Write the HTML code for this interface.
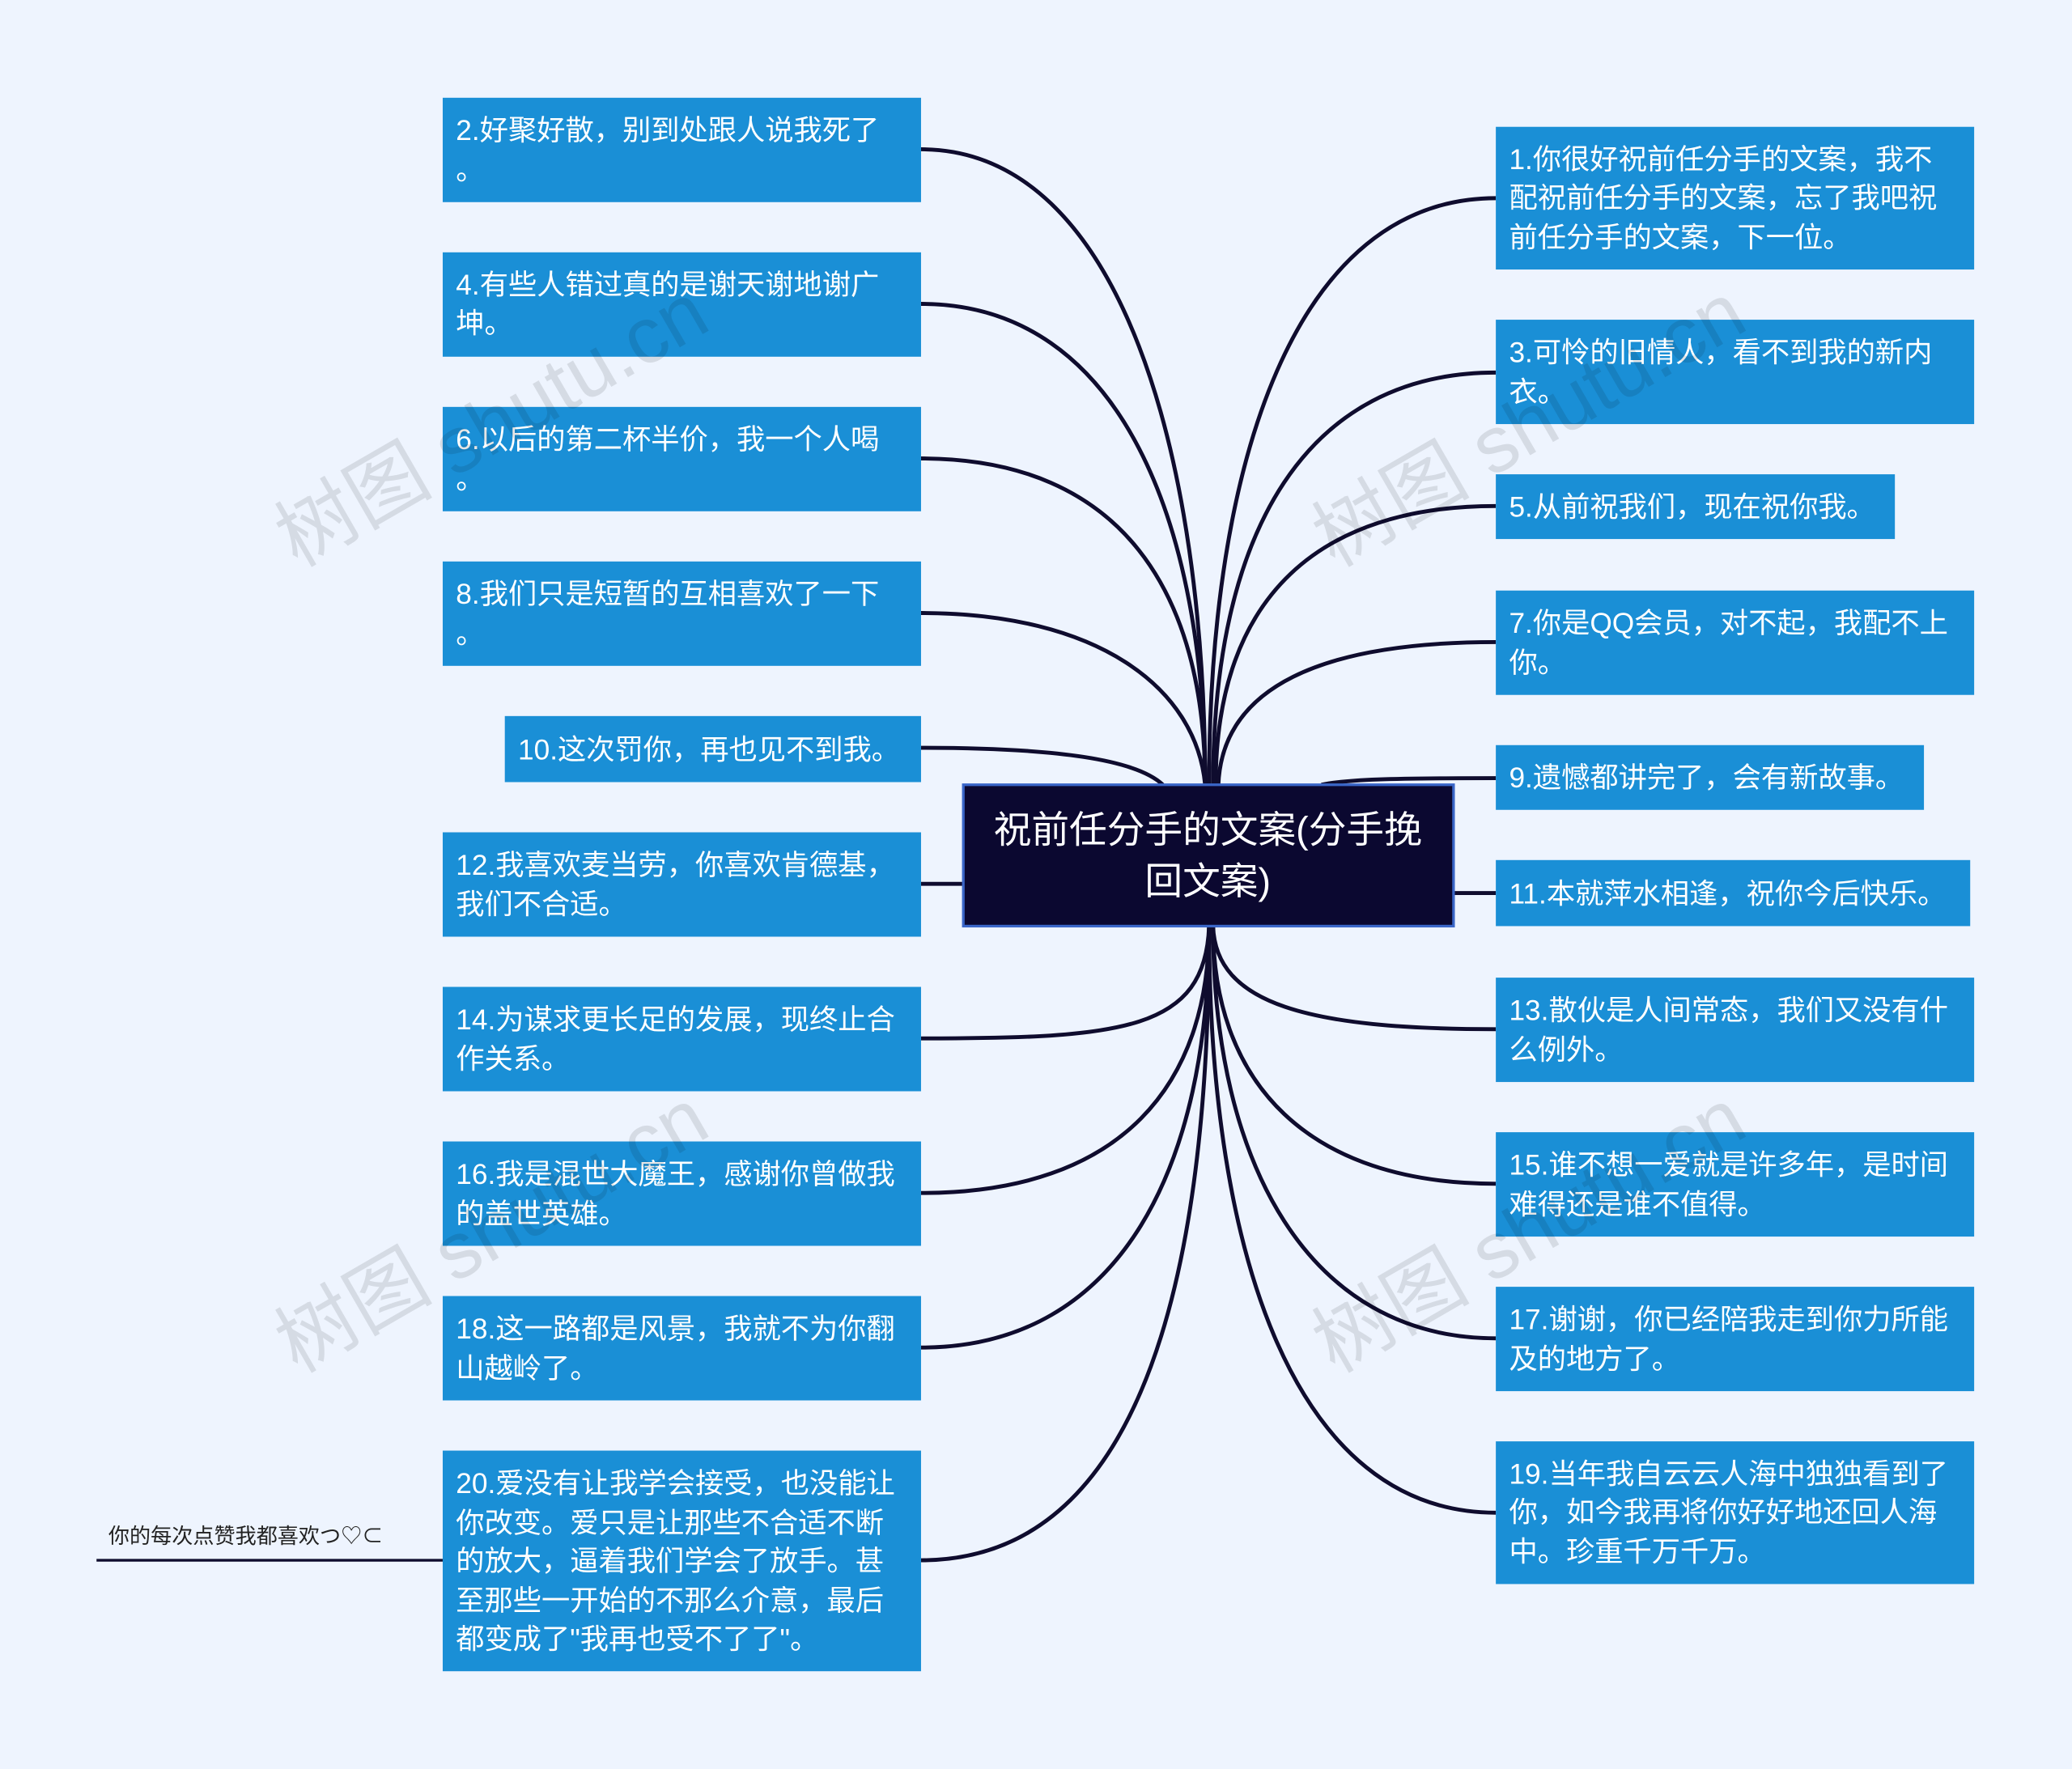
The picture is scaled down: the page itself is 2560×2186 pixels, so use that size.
<!DOCTYPE html>
<html><head><meta charset="utf-8"><style>
html,body{margin:0;padding:0;background:#eef4fe;}
svg{display:block;}
text{font-family:"Liberation Sans","Noto Sans CJK SC",sans-serif;}
</style></head><body>
<svg width="2560" height="2186" viewBox="0 0 1568 1339" xmlns="http://www.w3.org/2000/svg">
<rect width="1568" height="1339" fill="#eef4fe"/>
<g fill="none" stroke="#0f0c2e" stroke-width="3">
<path d="M697 113 C850 113 912 350 912 594"/>
<path d="M697 230 C850 230 912 400 912 594"/>
<path d="M697 347 C850 347 912 450 912 594"/>
<path d="M697 464 C830 464 905 520 912 594"/>
<path d="M697 566 C800 566 860 575 880 594"/>
<path d="M697 669 L729 669"/>
<path d="M697 786 C850 786 912 780 915 701"/>
<path d="M697 903 C850 903 915 820 915 701"/>
<path d="M697 1020 C850 1020 915 880 915 701"/>
<path d="M697 1181 C870 1181 915 950 915 701"/>
<path d="M1132 150 C980 150 915 350 915 594"/>
<path d="M1132 282 C990 282 918 400 918 594"/>
<path d="M1132 383 C1000 383 920 450 920 594"/>
<path d="M1132 486 C1000 486 925 520 922 594"/>
<path d="M1132 589 C1050 589 1020 590 1000 594"/>
<path d="M1100 676 L1132 676"/>
<path d="M1132 779 C990 779 920 760 918 701"/>
<path d="M1132 896 C990 896 918 820 918 701"/>
<path d="M1132 1013 C990 1013 918 880 918 701"/>
<path d="M1132 1145 C980 1145 915 950 915 701"/>
<path d="M73 1181 L335 1181" stroke-width="2"/>
</g>
<g fill="#1a8fd6">
<rect x="335" y="74" width="362" height="79"/>
<rect x="335" y="191" width="362" height="79"/>
<rect x="335" y="308" width="362" height="79"/>
<rect x="335" y="425" width="362" height="79"/>
<rect x="382" y="542" width="315" height="50"/>
<rect x="335" y="630" width="362" height="79"/>
<rect x="335" y="747" width="362" height="79"/>
<rect x="335" y="864" width="362" height="79"/>
<rect x="335" y="981" width="362" height="79"/>
<rect x="335" y="1098" width="362" height="167"/>
<rect x="1132" y="96" width="362" height="108"/>
<rect x="1132" y="242" width="362" height="79"/>
<rect x="1132" y="359" width="302" height="49"/>
<rect x="1132" y="447" width="362" height="79"/>
<rect x="1132" y="564" width="324" height="49"/>
<rect x="1132" y="651" width="359" height="50"/>
<rect x="1132" y="740" width="362" height="79"/>
<rect x="1132" y="857" width="362" height="79"/>
<rect x="1132" y="974" width="362" height="79"/>
<rect x="1132" y="1091" width="362" height="108"/>
</g>
<rect x="729" y="594" width="371" height="107" fill="#0b0830" stroke="#3a66c8" stroke-width="2"/>
<g fill="#fff" font-size="28.6" text-anchor="middle">
<text x="914" y="638">祝前任分手的文案(分手挽</text>
<text x="914" y="677">回文案)</text>
</g>
<g fill="#fff" font-size="21.6">
<text x="345" y="106">2.好聚好散，别到处跟人说我死了</text><text x="345" y="136">。</text>
<text x="345" y="223">4.有些人错过真的是谢天谢地谢广</text><text x="345" y="252">坤。</text>
<text x="345" y="340">6.以后的第二杯半价，我一个人喝</text><text x="345" y="370">。</text>
<text x="345" y="457">8.我们只是短暂的互相喜欢了一下</text><text x="345" y="487">。</text>
<text x="392" y="575">10.这次罚你，再也见不到我。</text>
<text x="345" y="662">12.我喜欢麦当劳，你喜欢肯德基，</text><text x="345" y="692">我们不合适。</text>
<text x="345" y="779">14.为谋求更长足的发展，现终止合</text><text x="345" y="809">作关系。</text>
<text x="345" y="896">16.我是混世大魔王，感谢你曾做我</text><text x="345" y="926">的盖世英雄。</text>
<text x="345" y="1013">18.这一路都是风景，我就不为你翻</text><text x="345" y="1043">山越岭了。</text>
<text x="345" y="1130">20.爱没有让我学会接受，也没能让</text>
<text x="345" y="1160">你改变。爱只是让那些不合适不断</text>
<text x="345" y="1189">的放大，逼着我们学会了放手。甚</text>
<text x="345" y="1219">至那些一开始的不那么介意，最后</text>
<text x="345" y="1248">都变成了"我再也受不了了"。</text>
<text x="1142" y="128">1.你很好祝前任分手的文案，我不</text>
<text x="1142" y="157">配祝前任分手的文案，忘了我吧祝</text>
<text x="1142" y="187">前任分手的文案，下一位。</text>
<text x="1142" y="274">3.可怜的旧情人，看不到我的新内</text><text x="1142" y="304">衣。</text>
<text x="1142" y="391">5.从前祝我们，现在祝你我。</text>
<text x="1142" y="479">7.你是QQ会员，对不起，我配不上</text><text x="1142" y="509">你。</text>
<text x="1142" y="596">9.遗憾都讲完了，会有新故事。</text>
<text x="1142" y="684">11.本就萍水相逢，祝你今后快乐。</text>
<text x="1142" y="772">13.散伙是人间常态，我们又没有什</text><text x="1142" y="802">么例外。</text>
<text x="1142" y="889">15.谁不想一爱就是许多年，是时间</text><text x="1142" y="919">难得还是谁不值得。</text>
<text x="1142" y="1006">17.谢谢，你已经陪我走到你力所能</text><text x="1142" y="1036">及的地方了。</text>
<text x="1142" y="1123">19.当年我自云云人海中独独看到了</text>
<text x="1142" y="1152">你，如今我再将你好好地还回人海</text>
<text x="1142" y="1182">中。珍重千万千万。</text>
</g>
<text x="82" y="1168" font-size="16" fill="#222">你的每次点赞我都喜欢つ♡⊂</text>
<g fill="#000" fill-opacity="0.1" font-size="60" font-family="Liberation Serif, Noto Serif CJK SC, serif">
<text transform="translate(225,430) rotate(-30)">树图 shutu.cn</text>
<text transform="translate(1010,430) rotate(-30)">树图 shutu.cn</text>
<text transform="translate(225,1040) rotate(-30)">树图 shutu.cn</text>
<text transform="translate(1010,1040) rotate(-30)">树图 shutu.cn</text>
</g>
</svg>
</body></html>
